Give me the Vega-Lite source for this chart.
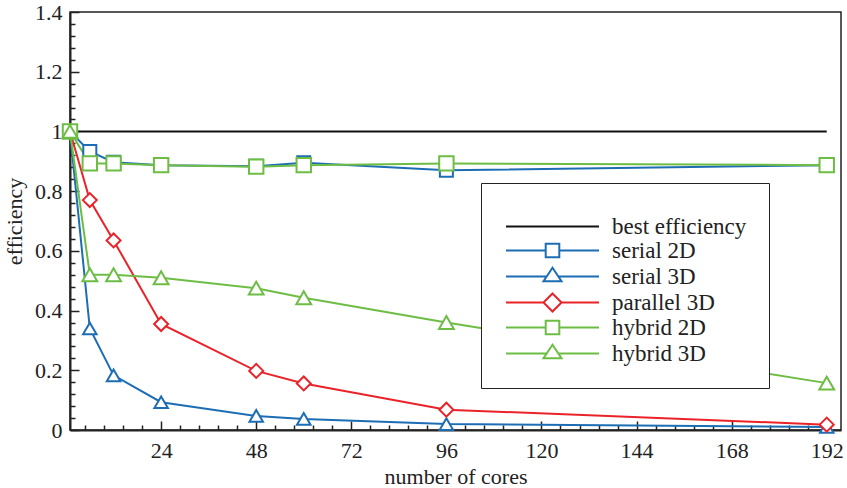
{
  "$schema": "https://vega.github.io/schema/vega-lite/v6.json",
  "width": 771,
  "height": 418,
  "autosize": "none",
  "padding": {"left": 70, "top": 12, "right": 6, "bottom": 58},
  "background": "white",
  "config": {
    "font": "Liberation Serif",
    "view": {"stroke": "#222", "strokeWidth": 1.5},
    "axis": {
      "grid": false,
      "domainColor": "#222",
      "domainWidth": 2,
      "tickColor": "#222",
      "tickWidth": 1.5,
      "labelColor": "#222",
      "labelFont": "Liberation Serif",
      "labelFontSize": 22,
      "labelOverlap": false,
      "titleFont": "Liberation Serif",
      "titleFontSize": 22,
      "titleFontWeight": "normal",
      "titleColor": "#222"
    },
    "legend": {
      "labelFont": "Liberation Serif",
      "labelFontSize": 23,
      "labelColor": "#222"
    }
  },
  "datasets": {
    "d": [
      {"series": "best efficiency", "cores": 1, "eff": 1},
      {"series": "best efficiency", "cores": 192, "eff": 1},
      {"series": "serial 2D", "cores": 1, "eff": 1},
      {"series": "serial 2D", "cores": 6, "eff": 0.933},
      {"series": "serial 2D", "cores": 12, "eff": 0.897},
      {"series": "serial 2D", "cores": 24, "eff": 0.887},
      {"series": "serial 2D", "cores": 48, "eff": 0.883},
      {"series": "serial 2D", "cores": 60, "eff": 0.895},
      {"series": "serial 2D", "cores": 96, "eff": 0.87},
      {"series": "serial 2D", "cores": 192, "eff": 0.887},
      {"series": "serial 3D", "cores": 1, "eff": 1},
      {"series": "serial 3D", "cores": 6, "eff": 0.34},
      {"series": "serial 3D", "cores": 12, "eff": 0.183},
      {"series": "serial 3D", "cores": 24, "eff": 0.093},
      {"series": "serial 3D", "cores": 48, "eff": 0.047},
      {"series": "serial 3D", "cores": 60, "eff": 0.037},
      {"series": "serial 3D", "cores": 96, "eff": 0.02},
      {"series": "serial 3D", "cores": 192, "eff": 0.01},
      {"series": "parallel 3D", "cores": 1, "eff": 1},
      {"series": "parallel 3D", "cores": 6, "eff": 0.77},
      {"series": "parallel 3D", "cores": 12, "eff": 0.635},
      {"series": "parallel 3D", "cores": 24, "eff": 0.355},
      {"series": "parallel 3D", "cores": 48, "eff": 0.198},
      {"series": "parallel 3D", "cores": 60, "eff": 0.156},
      {"series": "parallel 3D", "cores": 96, "eff": 0.068},
      {"series": "parallel 3D", "cores": 192, "eff": 0.018},
      {"series": "hybrid 2D", "cores": 1, "eff": 1},
      {"series": "hybrid 2D", "cores": 6, "eff": 0.893},
      {"series": "hybrid 2D", "cores": 12, "eff": 0.893},
      {"series": "hybrid 2D", "cores": 24, "eff": 0.887},
      {"series": "hybrid 2D", "cores": 48, "eff": 0.882},
      {"series": "hybrid 2D", "cores": 60, "eff": 0.887},
      {"series": "hybrid 2D", "cores": 96, "eff": 0.893},
      {"series": "hybrid 2D", "cores": 192, "eff": 0.887},
      {"series": "hybrid 3D", "cores": 1, "eff": 1},
      {"series": "hybrid 3D", "cores": 6, "eff": 0.52},
      {"series": "hybrid 3D", "cores": 12, "eff": 0.52},
      {"series": "hybrid 3D", "cores": 24, "eff": 0.51},
      {"series": "hybrid 3D", "cores": 48, "eff": 0.475},
      {"series": "hybrid 3D", "cores": 60, "eff": 0.443},
      {"series": "hybrid 3D", "cores": 96, "eff": 0.36},
      {"series": "hybrid 3D", "cores": 192, "eff": 0.157}
    ]
  },
  "data": {"name": "d"},
  "layer": [
    {
      "mark": {"type": "line", "strokeWidth": 2},
      "encoding": {
        "x": {"field": "cores", "type": "quantitative", "scale": {"domain": [1, 195.6], "nice": false, "zero": false},
          "axis": {"values": [24, 48, 72, 96, 120, 144, 168, 192], "format": "d", "tickSize": -9, "labelPadding": 19, "labelFontSize": 22, "title": "number of cores", "titlePadding": 5}},
        "y": {"field": "eff", "type": "quantitative", "scale": {"domain": [0, 1.4], "nice": false},
          "axis": {"values": [0, 0.2, 0.4, 0.6, 0.8, 1, 1.2, 1.4], "labelExpr": "format(datum.value, '~g')", "tickSize": -9, "labelPadding": 17, "labelFontSize": 22, "title": "efficiency", "titlePadding": 8}},
        "color": {"field": "series", "type": "nominal", "legend": null,
          "scale": {"domain": ["best efficiency", "serial 2D", "serial 3D", "parallel 3D", "hybrid 2D", "hybrid 3D"],
            "range": ["#111111", "#1d6db5", "#1d6db5", "#ea2329", "#6dbd45", "#6dbd45"]}},
        "detail": {"field": "series"}
      }
    },
    {
      "transform": [{"filter": "datum.series != 'best efficiency'"}],
      "mark": {"type": "point", "filled": false, "fill": "white", "fillOpacity": 1, "strokeWidth": 2, "opacity": 1},
      "encoding": {
        "x": {"field": "cores", "type": "quantitative",
          "axis": {"orient": "bottom", "values": [4.8, 9.6, 14.4, 19.2, 28.8, 33.6, 38.4, 43.2, 52.8, 57.6, 62.4, 67.2, 76.8, 81.6, 86.4, 91.2, 100.8, 105.6, 110.4, 115.2, 124.8, 129.6, 134.4, 139.2, 148.8, 153.6, 158.4, 163.2, 172.8, 177.6, 182.4, 187.2], "labels": false, "domain": false, "tickSize": -5, "title": null}},
        "y": {"field": "eff", "type": "quantitative",
          "axis": {"orient": "left", "values": [0.04, 0.08, 0.12, 0.16, 0.24, 0.28, 0.32, 0.36, 0.44, 0.48, 0.52, 0.56, 0.64, 0.68, 0.72, 0.76, 0.84, 0.88, 0.92, 0.96, 1.04, 1.08, 1.12, 1.16, 1.24, 1.28, 1.32, 1.36], "labels": false, "domain": false, "tickSize": -5, "title": null}},
        "color": {"field": "series", "type": "nominal", "legend": null,
          "scale": {"domain": ["best efficiency", "serial 2D", "serial 3D", "parallel 3D", "hybrid 2D", "hybrid 3D"],
            "range": ["#111111", "#1d6db5", "#1d6db5", "#ea2329", "#6dbd45", "#6dbd45"]}},
        "shape": {"field": "series", "type": "nominal", "legend": null,
          "scale": {"domain": ["serial 2D", "serial 3D", "parallel 3D", "hybrid 2D", "hybrid 3D"],
            "range": ["square", "triangle-up", "diamond", "square", "triangle-up"]}},
        "size": {"field": "series", "type": "nominal", "legend": null,
          "scale": {"domain": ["serial 2D", "serial 3D", "parallel 3D", "hybrid 2D", "hybrid 3D"],
            "range": [170, 220, 360, 170, 220]}}
      }
    },
    {
      "transform": [{"filter": "datum.eff > 5"}],
      "mark": {"type": "point", "filled": false, "strokeWidth": 2},
      "encoding": {
        "x": {"field": "cores", "type": "quantitative", "axis": null},
        "y": {"field": "eff", "type": "quantitative", "axis": null},
        "color": {"field": "series", "type": "nominal",
          "scale": {"domain": ["best efficiency", "serial 2D", "serial 3D", "parallel 3D", "hybrid 2D", "hybrid 3D"],
            "range": ["#111111", "#1d6db5", "#1d6db5", "#ea2329", "#6dbd45", "#6dbd45"]},
          "legend": {"orient": "none", "legendX": 411, "legendY": 171, "title": " ", "titleFontSize": 8, "titlePadding": 2, "strokeColor": "#222", "fillColor": "white", "padding": 22,
            "symbolSize": 400, "symbolStrokeWidth": 2, "symbolFillColor": "white", "symbolOpacity": 1, "rowPadding": 0, "labelOffset": 86}},
        "shape": {"field": "series", "type": "nominal",
          "scale": {"domain": ["best efficiency", "serial 2D", "serial 3D", "parallel 3D", "hybrid 2D", "hybrid 3D"],
            "range": [
              "M-0.85,0H8.45",
              "M-0.85,0H3.12M4.48,0H8.45M3.12,-0.68H4.48V0.68H3.12Z",
              "M-0.85,0H3.215M4.385,0H8.45M3.8,-0.87L4.7,0.47L2.9,0.47Z",
              "M-0.85,0H2.9M4.7,0H8.45M3.8,-0.9L4.7,0L3.8,0.9L2.9,0Z",
              "M-0.85,0H3.12M4.48,0H8.45M3.12,-0.68H4.48V0.68H3.12Z",
              "M-0.85,0H3.215M4.385,0H8.45M3.8,-0.87L4.7,0.47L2.9,0.47Z"
            ]},
          "legend": {"orient": "none", "legendX": 411, "legendY": 171, "title": " ", "titleFontSize": 8, "titlePadding": 2, "strokeColor": "#222", "fillColor": "white", "padding": 22,
            "symbolSize": 400, "symbolStrokeWidth": 2, "symbolFillColor": "white", "symbolOpacity": 1, "rowPadding": 0, "labelOffset": 86}}
      }
    }
  ],
  "resolve": {
    "scale": {"shape": "independent", "size": "independent", "color": "independent"},
    "axis": {"x": "independent", "y": "independent"}
  }
}
